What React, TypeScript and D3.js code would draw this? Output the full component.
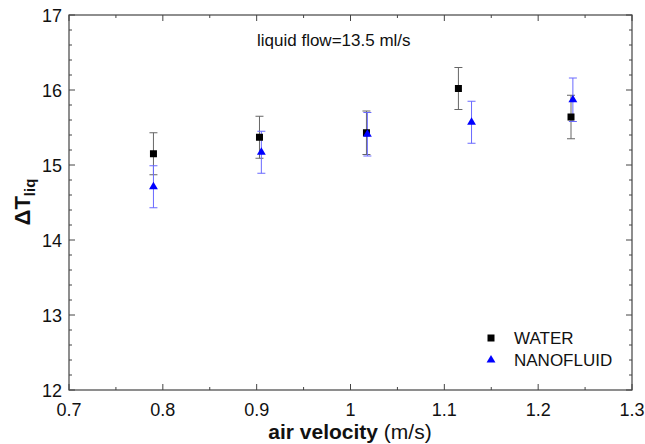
import React from "react";
import * as d3 from "d3";

const xValuesWater = [0.79, 0.903, 1.017, 1.115, 1.235];
const waterValues = [15.15, 15.37, 15.43, 16.02, 15.64];
const waterErr = [0.28, 0.28, 0.29, 0.28, 0.29];
const xValuesNano = [0.79, 0.905, 1.018, 1.129, 1.237];
const nanoValues = [14.71, 15.17, 15.41, 15.57, 15.87];
const nanoErr = [0.28, 0.28, 0.29, 0.28, 0.29];
const xTicks = [0.7, 0.8, 0.9, 1.0, 1.1, 1.2, 1.3];
const xTickLabels = ["0.7", "0.8", "0.9", "1", "1.1", "1.2", "1.3"];
const yTicks = [12, 13, 14, 15, 16, 17];

const W = 645, H = 444;
const M = { left: 69, right: 632, top: 15, bottom: 390 };

export default function App() {
  const x = d3.scaleLinear().domain([0.7, 1.3]).range([M.left, M.right]);
  const y = d3.scaleLinear().domain([12, 17]).range([M.bottom, M.top]);
  const xMinor = d3.range(0.7, 1.3001, 0.05);
  const yMinor = d3.range(12, 17.001, 0.2);
  const font = "Liberation Sans, Arial, sans-serif";
  const axisCol = "#444";
  const tri = d3.symbol().type(d3.symbolTriangle).size(34)();
  const cap = 4;
  return (
    <svg width={W} height={H} style={{ position: "absolute", left: 0, top: 0 }}>
      <rect x={0} y={0} width={W} height={H} fill="#fff" />
      {xMinor.map((v, i) => {
        const major = i % 2 === 0;
        const len = major ? 6 : 3;
        return (
          <g key={"xt" + i} stroke={axisCol} strokeWidth={1}>
            <line x1={x(v)} x2={x(v)} y1={M.bottom} y2={M.bottom - len} />
            <line x1={x(v)} x2={x(v)} y1={M.top} y2={M.top + len} />
          </g>
        );
      })}
      {yMinor.map((v, i) => {
        const major = i % 5 === 0;
        const len = major ? 6 : 3;
        return (
          <g key={"yt" + i} stroke={axisCol} strokeWidth={1}>
            <line x1={M.left} x2={M.left + len} y1={y(v)} y2={y(v)} />
            <line x1={M.right} x2={M.right - len} y1={y(v)} y2={y(v)} />
          </g>
        );
      })}
      <rect x={M.left} y={M.top} width={M.right - M.left} height={M.bottom - M.top} fill="none" stroke={axisCol} strokeWidth={1.2} />
      {xTicks.map((v, i) => (
        <text key={"xl" + i} x={x(v)} y={416} fontSize={18} fontFamily={font} textAnchor="middle" fill="#111">
          {xTickLabels[i]}
        </text>
      ))}
      {yTicks.map((v) => (
        <text key={"yl" + v} x={62} y={y(v) + 6.5} fontSize={18} fontFamily={font} textAnchor="end" fill="#111">
          {v}
        </text>
      ))}
      <text x={350} y={439} fontSize={21} fontFamily={font} textAnchor="middle" fill="#111">
        <tspan fontWeight="bold">air velocity</tspan>
        <tspan> (m/s)</tspan>
      </text>
      <text transform="translate(30,202) rotate(-90)" fontSize={22} fontFamily={font} fontWeight="bold" textAnchor="middle" fill="#111">
        ΔT<tspan fontSize={15} dy={5}>liq</tspan>
      </text>
      <text x={257} y={46} fontSize={17} fontFamily={font} fill="#111">liquid flow=13.5 ml/s</text>
      {waterValues.map((v, i) => (
        <g key={"we" + i} stroke="#666" strokeWidth={1}>
          <line x1={x(xValuesWater[i])} x2={x(xValuesWater[i])} y1={y(v - waterErr[i])} y2={y(v + waterErr[i])} />
          <line x1={x(xValuesWater[i]) - cap} x2={x(xValuesWater[i]) + cap} y1={y(v + waterErr[i])} y2={y(v + waterErr[i])} />
          <line x1={x(xValuesWater[i]) - cap} x2={x(xValuesWater[i]) + cap} y1={y(v - waterErr[i])} y2={y(v - waterErr[i])} />
        </g>
      ))}
      {nanoValues.map((v, i) => (
        <g key={"ne" + i} stroke="#6a6aff" strokeWidth={1}>
          <line x1={x(xValuesNano[i])} x2={x(xValuesNano[i])} y1={y(v - nanoErr[i])} y2={y(v + nanoErr[i])} />
          <line x1={x(xValuesNano[i]) - cap} x2={x(xValuesNano[i]) + cap} y1={y(v + nanoErr[i])} y2={y(v + nanoErr[i])} />
          <line x1={x(xValuesNano[i]) - cap} x2={x(xValuesNano[i]) + cap} y1={y(v - nanoErr[i])} y2={y(v - nanoErr[i])} />
        </g>
      ))}
      {waterValues.map((v, i) => (
        <rect key={"w" + i} x={x(xValuesWater[i]) - 3.5} y={y(v) - 3.5} width={7} height={7} fill="#000" />
      ))}
      {nanoValues.map((v, i) => (
        <path key={"n" + i} d={tri as string} transform={`translate(${x(xValuesNano[i])},${y(v)})`} fill="#0000ff" />
      ))}
      <rect x={487.5} y={334.5} width={7} height={7} fill="#000" />
      <text x={514} y={344} fontSize={17} fontFamily={font} fill="#111">WATER</text>
      <path d={tri as string} transform="translate(491,360)" fill="#0000ff" />
      <text x={514} y={366} fontSize={17} fontFamily={font} fill="#111">NANOFLUID</text>
    </svg>
  );
}
